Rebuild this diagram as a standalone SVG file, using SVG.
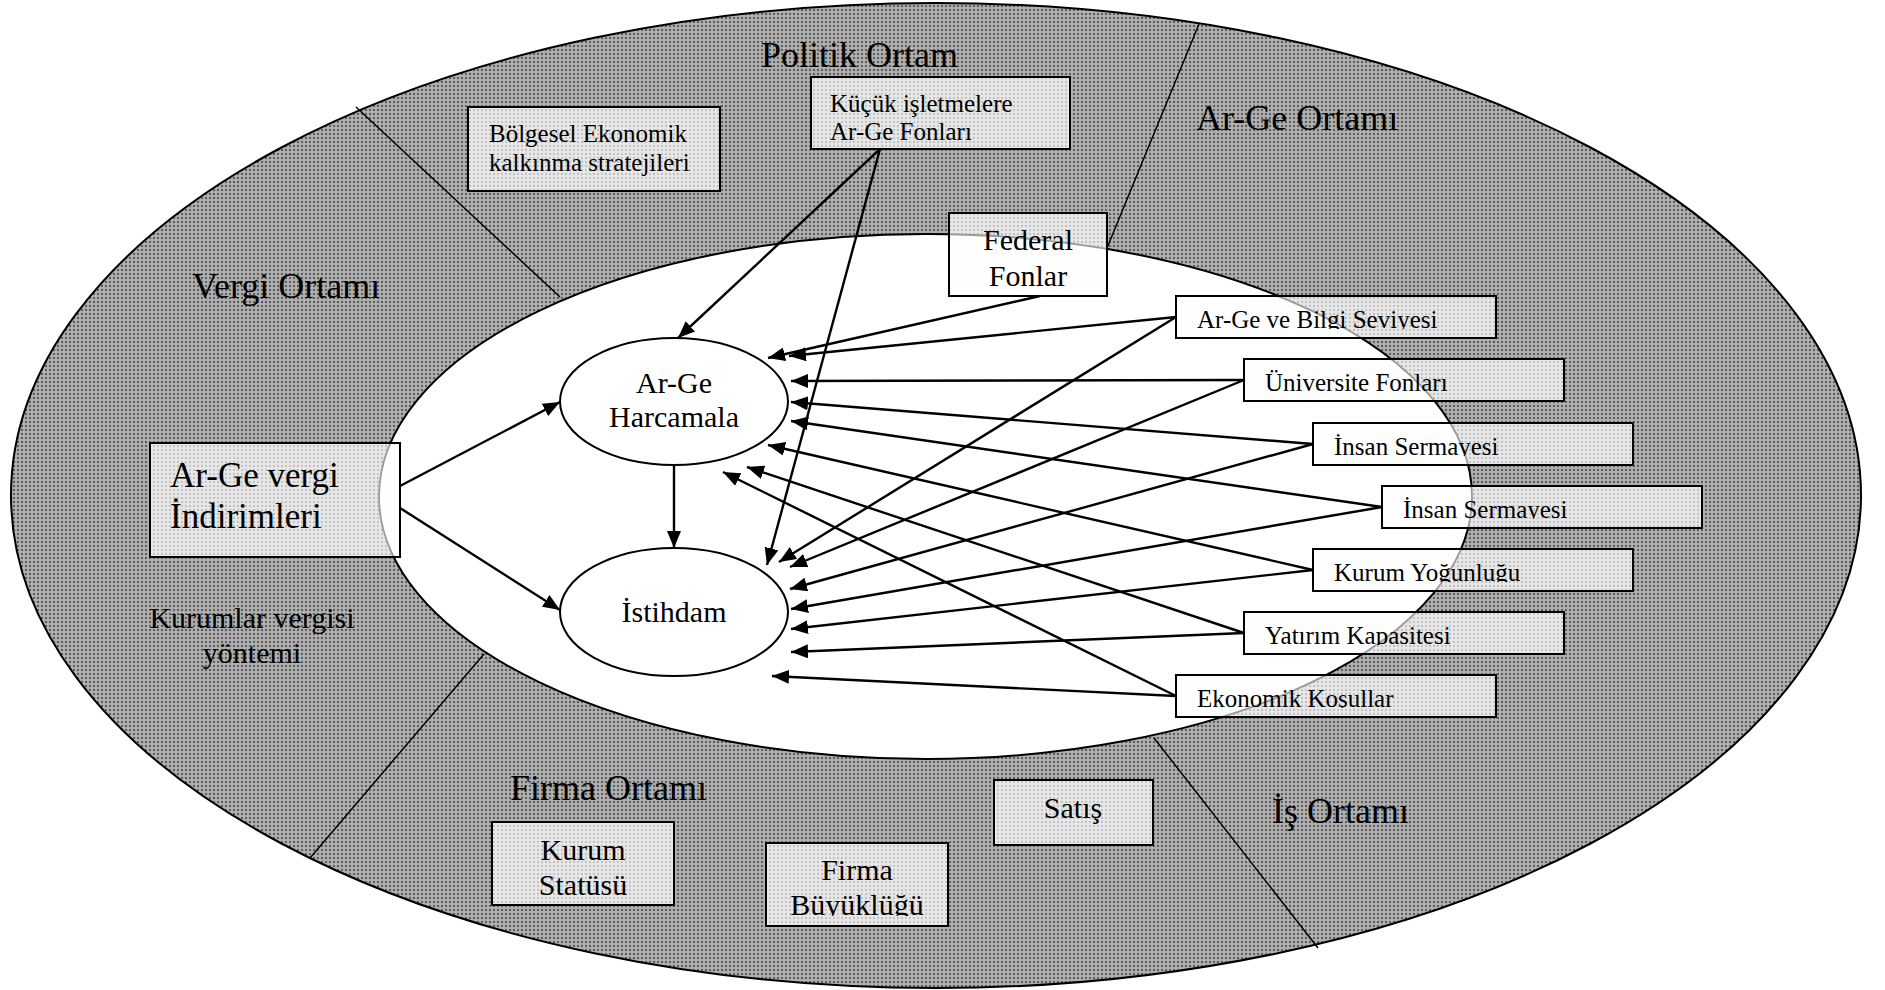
<svg xmlns="http://www.w3.org/2000/svg" width="1885" height="990" viewBox="0 0 1885 990">
<defs>
  <!-- stippled fills -->
  <pattern id="dotsDark" width="4" height="4" patternUnits="userSpaceOnUse">
    <rect width="4" height="4" fill="#b3b3b3"/>
    <circle cx="2" cy="2" r="1.25" fill="#606060"/>
  </pattern>
  <pattern id="dotsLight" width="4" height="4" patternUnits="userSpaceOnUse">
    <rect width="4" height="4" fill="#e9e9e9"/>
    <circle cx="2" cy="2" r="1.2" fill="#c2c2c2"/>
  </pattern>
  <marker id="arrow" markerUnits="userSpaceOnUse" markerWidth="18" markerHeight="14" refX="17" refY="7" orient="auto">
    <path d="M0,0 L17,7 L0,14 Z" fill="#000"/>
  </marker>
  <!-- inner field: boxes are whitened where they enter it -->
  <mask id="inside" maskUnits="userSpaceOnUse" x="0" y="0" width="1885" height="990">
    <ellipse cx="925.5" cy="496.5" rx="546.5" ry="262.5" fill="#fff"/>
  </mask>
  <mask id="rim" maskUnits="userSpaceOnUse" x="0" y="0" width="1885" height="990">
    <ellipse cx="925.5" cy="496.5" rx="546.5" ry="262.5" fill="none" stroke="#fff" stroke-width="1.8"/>
  </mask>
  <!-- text frames of the factor boxes -->
  <clipPath id="c-bilgi"><rect x="1176" y="296" width="320" height="33"/></clipPath>
  <clipPath id="c-univ"><rect x="1244" y="359" width="320" height="33"/></clipPath>
  <clipPath id="c-insan1"><rect x="1313" y="423" width="320" height="33"/></clipPath>
  <clipPath id="c-insan2"><rect x="1382" y="486" width="320" height="33"/></clipPath>
  <clipPath id="c-yogunluk"><rect x="1313" y="549" width="320" height="33"/></clipPath>
  <clipPath id="c-yatirim"><rect x="1244" y="612" width="320" height="33"/></clipPath>
  <clipPath id="c-kosullar"><rect x="1176" y="675" width="320" height="33"/></clipPath>
  <clipPath id="c-buyukluk"><rect x="766" y="843" width="182" height="73"/></clipPath>
</defs>
<style>
  text { font-family: "Liberation Serif", "Times New Roman", serif; fill: #000; }
  .zone { font-size: 36px; }
  .t25 { font-size: 25px; }
  .t30 { font-size: 30px; }
  .mid { text-anchor: middle; }
  .ring { fill: url(#dotsDark); stroke: #000; stroke-width: 2; }
  .field { fill: #fff; stroke: #000; stroke-width: 2; }
  .divider { stroke: #000; stroke-width: 1.5; fill: none; }
  .tint { fill: url(#dotsLight); stroke: none; }
  .veil { fill: #fff; fill-opacity: 0.96; stroke: none; }
  .rimline { fill: #9a9a9a; stroke: none; }
  .frame { fill: none; stroke: #000; stroke-width: 2; }
  .oval { fill: #fff; stroke: #000; stroke-width: 2; }
  .conn line { stroke: #000; stroke-width: 2.4; marker-end: url(#arrow); }
</style>

<!-- environment rings -->
<g id="environment">
  <ellipse class="ring" cx="936" cy="495.5" rx="925" ry="492.5"/>
  <ellipse class="field" cx="925.5" cy="496.5" rx="546.5" ry="262.5"/>
</g>
<g id="dividers">
  <line class="divider" x1="356" y1="107" x2="560" y2="297"/>
  <line class="divider" x1="1199" y1="24" x2="1107" y2="248"/>
  <line class="divider" x1="310" y1="858" x2="484" y2="654"/>
  <line class="divider" x1="1154" y1="738" x2="1318" y2="948"/>
</g>
<g id="zone-labels">
  <text class="zone" x="761" y="67" font-size="37">Politik Ortam</text>
  <text class="zone" x="1196" y="130" font-size="37">Ar-Ge Ortamı</text>
  <text class="zone" x="192" y="298" font-size="37">Vergi Ortamı</text>
  <text class="zone" x="510" y="800">Firma Ortamı</text>
  <text class="zone" x="1272" y="823" font-size="39">İş Ortamı</text>
  <text class="mid" x="252" y="628" font-size="30">Kurumlar vergisi</text>
  <text class="mid" x="252" y="663" font-size="30">yöntemi</text>
</g>

<!-- policy / firm factors -->
<g id="n-bolgesel">
  <rect class="tint" x="468" y="107" width="252" height="84"/>
  <rect class="frame" x="468" y="107" width="252" height="84"/>
  <text class="t25" x="489" y="142">Bölgesel Ekonomik</text>
  <text class="t25" x="489" y="171">kalkınma stratejileri</text>
</g>
<g id="n-kucuk">
  <rect class="tint" x="811" y="77" width="259" height="72"/>
  <rect class="frame" x="811" y="77" width="259" height="72"/>
  <text class="t25" x="830" y="112">Küçük işletmelere</text>
  <text class="t25" x="830" y="140">Ar-Ge Fonları</text>
</g>
<g id="n-federal">
  <rect class="tint" x="949" y="213" width="158" height="83"/>
  <rect class="veil" x="949" y="213" width="158" height="83" mask="url(#inside)"/>
  <rect class="rimline" x="949" y="213" width="158" height="83" mask="url(#rim)"/>
  <rect class="frame" x="949" y="213" width="158" height="83"/>
  <text class="t30 mid" x="1028" y="250">Federal</text>
  <text class="t30 mid" x="1028" y="286">Fonlar</text>
</g>
<g id="n-vergi">
  <rect class="tint" x="150" y="443" width="250" height="114"/>
  <rect class="veil" x="150" y="443" width="250" height="114" mask="url(#inside)"/>
  <rect class="rimline" x="150" y="443" width="250" height="114" mask="url(#rim)"/>
  <rect class="frame" x="150" y="443" width="250" height="114"/>
  <text x="170" y="487" font-size="35">Ar-Ge vergi</text>
  <text x="170" y="528" font-size="35">İndirimleri</text>
</g>
<g id="n-statu">
  <rect class="tint" x="492" y="822" width="182" height="83"/>
  <rect class="frame" x="492" y="822" width="182" height="83"/>
  <text class="t30 mid" x="583" y="860">Kurum</text>
  <text class="t30 mid" x="583" y="895">Statüsü</text>
</g>
<g id="n-buyukluk">
  <rect class="tint" x="766" y="843" width="182" height="83"/>
  <rect class="frame" x="766" y="843" width="182" height="83"/>
  <text class="t30 mid" x="857" y="880">Firma</text>
  <text class="t30 mid" x="857" y="915" clip-path="url(#c-buyukluk)">Büyüklüğü</text>
</g>
<g id="n-satis">
  <rect class="tint" x="994" y="780" width="159" height="65"/>
  <rect class="frame" x="994" y="780" width="159" height="65"/>
  <text class="t30 mid" x="1073" y="818">Satış</text>
</g>

<!-- R&D / business factors -->
<g id="n-bilgi">
  <rect class="tint" x="1176" y="296" width="320" height="42"/>
  <rect class="veil" x="1176" y="296" width="320" height="42" mask="url(#inside)"/>
  <rect class="rimline" x="1176" y="296" width="320" height="42" mask="url(#rim)"/>
  <rect class="frame" x="1176" y="296" width="320" height="42"/>
  <text class="t25" x="1197" y="328" clip-path="url(#c-bilgi)">Ar-Ge ve Bilgi Seviyesi</text>
</g>
<g id="n-univ">
  <rect class="tint" x="1244" y="359" width="320" height="42"/>
  <rect class="veil" x="1244" y="359" width="320" height="42" mask="url(#inside)"/>
  <rect class="rimline" x="1244" y="359" width="320" height="42" mask="url(#rim)"/>
  <rect class="frame" x="1244" y="359" width="320" height="42"/>
  <text class="t25" x="1265" y="391" clip-path="url(#c-univ)">Üniversite Fonları</text>
</g>
<g id="n-insan1">
  <rect class="tint" x="1313" y="423" width="320" height="42"/>
  <rect class="veil" x="1313" y="423" width="320" height="42" mask="url(#inside)"/>
  <rect class="rimline" x="1313" y="423" width="320" height="42" mask="url(#rim)"/>
  <rect class="frame" x="1313" y="423" width="320" height="42"/>
  <text class="t25" x="1334" y="455" clip-path="url(#c-insan1)">İnsan Sermayesi</text>
</g>
<g id="n-insan2">
  <rect class="tint" x="1382" y="486" width="320" height="42"/>
  <rect class="veil" x="1382" y="486" width="320" height="42" mask="url(#inside)"/>
  <rect class="rimline" x="1382" y="486" width="320" height="42" mask="url(#rim)"/>
  <rect class="frame" x="1382" y="486" width="320" height="42"/>
  <text class="t25" x="1403" y="518" clip-path="url(#c-insan2)">İnsan Sermayesi</text>
</g>
<g id="n-yogunluk">
  <rect class="tint" x="1313" y="549" width="320" height="42"/>
  <rect class="veil" x="1313" y="549" width="320" height="42" mask="url(#inside)"/>
  <rect class="rimline" x="1313" y="549" width="320" height="42" mask="url(#rim)"/>
  <rect class="frame" x="1313" y="549" width="320" height="42"/>
  <text class="t25" x="1334" y="581" clip-path="url(#c-yogunluk)">Kurum Yoğunluğu</text>
</g>
<g id="n-yatirim">
  <rect class="tint" x="1244" y="612" width="320" height="42"/>
  <rect class="veil" x="1244" y="612" width="320" height="42" mask="url(#inside)"/>
  <rect class="rimline" x="1244" y="612" width="320" height="42" mask="url(#rim)"/>
  <rect class="frame" x="1244" y="612" width="320" height="42"/>
  <text class="t25" x="1265" y="644" clip-path="url(#c-yatirim)">Yatırım Kapasitesi</text>
</g>
<g id="n-kosullar">
  <rect class="tint" x="1176" y="675" width="320" height="42"/>
  <rect class="veil" x="1176" y="675" width="320" height="42" mask="url(#inside)"/>
  <rect class="rimline" x="1176" y="675" width="320" height="42" mask="url(#rim)"/>
  <rect class="frame" x="1176" y="675" width="320" height="42"/>
  <text class="t25" x="1197" y="707" clip-path="url(#c-kosullar)">Ekonomik Koşullar</text>
</g>

<!-- outcomes -->
<g id="n-harcama">
  <ellipse class="oval" cx="674" cy="401.5" rx="114" ry="63.5"/>
  <text class="t30 mid" x="674" y="393">Ar-Ge</text>
  <text class="t30 mid" x="674" y="427">Harcamala</text>
</g>
<g id="n-istihdam">
  <ellipse class="oval" cx="674" cy="612" rx="114" ry="64"/>
  <text class="t30 mid" x="674" y="622">İstihdam</text>
</g>

<!-- influences -->
<g id="connectors" class="conn">
  <line x1="400" y1="486" x2="560" y2="402"/>
  <line x1="400" y1="508" x2="560" y2="610"/>
  <line x1="674" y1="465" x2="674" y2="548"/>
  <line x1="880" y1="149" x2="678" y2="338"/>
  <line x1="880" y1="149" x2="767" y2="565"/>
  <line x1="1040" y1="296" x2="768" y2="358"/>
  <line x1="1176" y1="317" x2="789" y2="356"/>
  <line x1="1176" y1="317" x2="779" y2="562"/>
  <line x1="1244" y1="380" x2="791" y2="381"/>
  <line x1="1244" y1="380" x2="790" y2="567"/>
  <line x1="1313" y1="444" x2="791" y2="402"/>
  <line x1="1313" y1="444" x2="790" y2="589"/>
  <line x1="1382" y1="507" x2="791" y2="421"/>
  <line x1="1382" y1="507" x2="791" y2="609"/>
  <line x1="1313" y1="570" x2="768" y2="445"/>
  <line x1="1313" y1="570" x2="791" y2="629"/>
  <line x1="1244" y1="633" x2="747" y2="467"/>
  <line x1="1244" y1="633" x2="791" y2="652"/>
  <line x1="1176" y1="696" x2="723" y2="472"/>
  <line x1="1176" y1="696" x2="772" y2="676"/>
</g>
</svg>
